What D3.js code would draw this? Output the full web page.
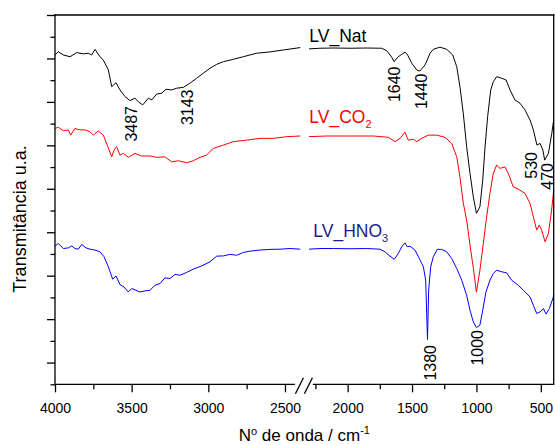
<!DOCTYPE html>
<html>
<head>
<meta charset="utf-8">
<script src="https://cdn.jsdelivr.net/npm/d3@7"></script>
<style>
  body { margin: 0; background: #fff; }
  svg { display: block; }
  text { font-family: "Liberation Sans", Arial, Helvetica, sans-serif; }
</style>
</head>
<body>
<svg id="chart" width="555" height="445"></svg>
<script>
// FTIR spectra: [wavenumber (cm-1), transmittance (a.u.)]
const lvNat = [
  [4000,15.16],[3978,15.31],[3946,15.16],[3902,15.08],[3858,15.27],[3815,15.21],[3783,15.24],
  [3761,15.16],[3739,15.42],[3707,15.08],[3685,14.93],[3652,14.47],[3630,13.70],[3602,13.88],
  [3576,13.55],[3543,13.24],[3511,13.06],[3478,13.17],[3457,13.01],[3428,12.86],[3391,13.17],
  [3369,13.09],[3337,13.36],[3304,13.40],[3276,13.58],[3239,13.55],[3206,13.63],[3163,13.67],
  [3120,13.86],[3076,14.09],[3033,14.32],[2989,14.55],[2945,14.73],[2902,14.85],[2837,14.96],
  [2772,15.08],[2685,15.24],[2598,15.30],[2511,15.39],[2400,15.50],
  [2300,15.44],[2215,15.47],[2111,15.48],[1982,15.47],[1852,15.48],[1736,15.47],[1697,15.36],
  [1658,15.06],[1640,14.85],[1607,15.08],[1580,15.19],[1555,15.29],[1537,15.19],[1502,14.78],
  [1464,14.47],[1440,14.42],[1399,14.70],[1360,15.24],[1335,15.42],[1283,15.52],[1231,15.42],
  [1184,15.16],[1153,14.62],[1128,13.70],[1102,12.47],[1076,10.94],[1050,9.71],[1024,8.63],
  [1000,7.87],[973,8.17],[951,9.40],[933,10.94],[913,12.32],[889,13.55],[869,13.93],[843,14.16],
  [804,14.09],[770,14.01],[739,13.55],[701,13.09],[662,12.94],[623,12.63],[584,12.17],[558,11.71],
  [530,11.01],[506,11.09],[484,10.78],[470,10.32],[441,10.63],[415,11.55],[400,12.17]
];
const lvCO2 = [
  [4000,11.78],[3978,11.83],[3946,11.67],[3913,11.71],[3898,11.47],[3870,11.78],[3837,11.71],
  [3804,11.71],[3772,11.63],[3750,11.47],[3718,11.67],[3685,11.47],[3659,11.01],[3630,10.47],
  [3615,10.78],[3598,10.94],[3576,10.55],[3555,10.63],[3522,10.45],[3478,10.63],[3435,10.51],
  [3380,10.51],[3337,10.45],[3283,10.47],[3239,10.24],[3196,10.29],[3141,10.20],[3098,10.29],
  [3054,10.45],[3011,10.55],[2968,10.86],[2902,11.01],[2837,11.17],[2750,11.24],[2663,11.32],
  [2576,11.32],[2489,11.40],[2400,11.43],
  [2300,11.40],[2163,11.43],[1982,11.43],[1801,11.43],[1684,11.37],[1632,11.17],[1593,11.32],
  [1555,11.60],[1529,11.24],[1490,11.28],[1464,11.17],[1425,11.32],[1374,11.47],[1309,11.47],
  [1244,11.37],[1192,11.09],[1153,10.47],[1128,9.55],[1102,8.34],[1076,7.56],[1050,6.41],
  [1024,5.35],[1000,4.24],[973,5.25],[951,6.27],[926,7.47],[895,8.79],[869,9.71],[843,10.09],
  [817,9.94],[778,10.01],[753,9.71],[714,9.09],[662,8.94],[623,8.79],[584,8.33],[558,7.71],
  [532,7.10],[512,7.33],[494,7.10],[467,6.56],[441,6.94],[416,8.02],[400,8.94]
];
const lvHNO3 = [
  [4000,6.37],[3978,6.48],[3946,6.25],[3913,6.28],[3891,6.37],[3870,6.25],[3848,6.22],
  [3826,6.44],[3798,6.28],[3772,6.22],[3739,6.18],[3707,6.10],[3680,5.87],[3652,5.41],
  [3624,4.84],[3602,4.99],[3576,4.59],[3550,4.48],[3522,4.25],[3500,4.41],[3472,4.33],
  [3446,4.25],[3413,4.30],[3380,4.33],[3348,4.56],[3315,4.64],[3283,4.90],[3250,4.87],
  [3217,5.06],[3185,5.02],[3141,5.15],[3098,5.30],[3043,5.45],[2989,5.64],[2945,5.90],
  [2902,5.91],[2859,5.98],[2815,5.94],[2772,6.07],[2728,6.13],[2663,6.18],[2598,6.21],
  [2533,6.22],[2467,6.25],[2400,6.22],
  [2300,6.22],[2215,6.25],[2111,6.25],[1982,6.24],[1852,6.25],[1749,6.22],[1710,6.10],
  [1671,5.90],[1638,5.75],[1607,6.02],[1580,6.33],[1555,6.51],[1537,6.33],[1516,6.36],
  [1477,6.18],[1443,5.79],[1412,5.41],[1394,4.79],[1380,2.06],[1371,4.33],[1355,5.41],
  [1335,5.87],[1304,6.21],[1270,6.21],[1231,6.10],[1192,5.79],[1153,5.33],[1114,4.79],
  [1076,4.10],[1050,3.41],[1024,2.87],[1000,2.61],[973,2.72],[951,3.41],[926,4.25],
  [895,4.79],[869,5.10],[843,5.25],[804,5.18],[765,5.13],[726,4.79],[675,4.56],[636,4.33],
  [584,4.02],[558,3.64],[532,3.26],[506,3.33],[480,3.49],[459,3.23],[433,3.49],[407,3.95],[400,4.10]
];

const seriesNames = ["LV_Nat", "LV_CO2", "LV_HNO3"];
const xMajorTicks = [4000, 3500, 3000, 2500, 2000, 1500, 1000, 500];
const xMinorTicks = [3750, 3250, 2750, 2250, 1750, 1250, 750];
const yMajorTicks = [1, 3, 5, 7, 9, 11, 13, 15, 17];
const yMinorTicks = [0, 2, 4, 6, 8, 10, 12, 14, 16];
const peakLabels = ["3487", "3143", "1640", "1440", "530", "470", "1380", "1000"];

// ---- layout ----
const W = 555, H = 445;
const plotL = 55, plotR = 553.7, plotT = 15, plotB = 384.3;
const breakL = 300.3, breakR = 309;   // the axis is broken between 2400 and 2300 cm-1

const svg = d3.select("#chart");

const xLeft = d3.scaleLinear().domain([4000, 2400]).range([plotL, breakL]);
const xRight = d3.scaleLinear().domain([2300, 400]).range([breakR, plotR]);
const x = wn => (wn >= 2350 ? xLeft(wn) : xRight(wn));
const y = d3.scaleLinear().domain([0, 17]).range([plotB, plotT]);

const line = d3.line().x(d => x(d[0])).y(d => y(d[1]));

const styles = {
  LV_Nat: { stroke: "#000000", text: "#000000" },
  LV_CO2: { stroke: "#ff0000", text: "#ff0000" },
  LV_HNO3: { stroke: "#0000ff", text: "#1c1c8e" }
};
const data = { LV_Nat: lvNat, LV_CO2: lvCO2, LV_HNO3: lvHNO3 };

// ---- spectra, drawn in two pieces on either side of the break ----
seriesNames.forEach(name => {
  const pts = data[name];
  const pieces = [pts.filter(d => d[0] >= 2400), pts.filter(d => d[0] <= 2300)];
  pieces.forEach(p => {
    svg.append("path")
      .datum(p)
      .attr("d", line)
      .attr("fill", "none")
      .attr("stroke", styles[name].stroke)
      .attr("stroke-width", 1)
      .attr("stroke-linejoin", "round");
  });
});

// ---- axes ----
const axisColor = "#000";
const axisW = 1.3;

// left axis (ticks only, no labels)
const gy = svg.append("g").attr("transform", `translate(${plotL},0)`);
gy.call(d3.axisLeft(y).tickValues(yMajorTicks).tickSize(8).tickFormat(""))
  .call(g => g.select(".domain").remove());
gy.append("g").call(d3.axisLeft(y).tickValues(yMinorTicks).tickSize(4.5).tickFormat(""))
  .call(g => g.select(".domain").remove());
gy.selectAll("line").attr("stroke", axisColor).attr("stroke-width", axisW);

// bottom axis, split into two scales
const gx = svg.append("g").attr("transform", `translate(0,${plotB})`);
[[xLeft, w => w >= 2400], [xRight, w => w <= 2300]].forEach(([sc, keep]) => {
  const major = gx.append("g").call(
    d3.axisBottom(sc).tickValues(xMajorTicks.filter(keep)).tickSize(8).tickPadding(11)
      .tickFormat(d3.format("d")));
  major.select(".domain").remove();
  major.selectAll("text").attr("font-size", 14).attr("fill", "#000")
    .attr("font-family", "'Liberation Sans', Arial, sans-serif");
  const minor = gx.append("g").call(
    d3.axisBottom(sc).tickValues(xMinorTicks.filter(keep)).tickSize(5).tickFormat(""));
  minor.select(".domain").remove();
});
gx.selectAll("line").attr("stroke", axisColor).attr("stroke-width", axisW);

// frame lines
const frame = svg.append("g").attr("stroke", axisColor).attr("stroke-width", axisW)
  .attr("fill", "none").attr("stroke-linecap", "square");
frame.append("line").attr("x1", plotL).attr("y1", plotT).attr("x2", plotL).attr("y2", plotB);
frame.append("line").attr("x1", plotL).attr("y1", plotT).attr("x2", plotR).attr("y2", plotT);
frame.append("line").attr("x1", plotR).attr("y1", plotT).attr("x2", plotR).attr("y2", plotB);
frame.append("line").attr("x1", plotL).attr("y1", plotB).attr("x2", xLeft(2435)).attr("y2", plotB)
  .attr("stroke-linecap", "butt");
frame.append("line").attr("x1", xRight(2270)).attr("y1", plotB).attr("x2", plotR).attr("y2", plotB)
  .attr("stroke-linecap", "butt");

// break marks "//"
const bc = (xLeft(2435) + xRight(2270)) / 2;
[-4.5, 4.5].forEach(off => {
  frame.append("line")
    .attr("x1", bc + off - 4).attr("y1", plotB + 9.5)
    .attr("x2", bc + off + 4).attr("y2", plotB - 6.5)
    .attr("stroke-linecap", "butt");
});

// ---- axis titles ----
const xTitle = svg.append("text")
  .attr("x", (plotL + plotR) / 2).attr("y", 441)
  .attr("text-anchor", "middle").attr("font-size", 17).attr("fill", "#000");
xTitle.append("tspan").text("N");
xTitle.append("tspan").attr("font-size", 11).attr("dy", -6).text("o");
xTitle.append("tspan").attr("dy", 6).text(" de onda / cm");
xTitle.append("tspan").attr("font-size", 11).attr("dy", -7).text("-1");

svg.append("text")
  .attr("transform", `translate(26,219) rotate(-90)`)
  .attr("text-anchor", "middle").attr("font-size", 18).attr("fill", "#000")
  .text("Transmitância u.a.");

// ---- series names ----
const nameLayout = {
  LV_Nat: { x: 309.3, y: 41.7, base: "LV_Nat", sub: "" },
  LV_CO2: { x: 309.3, y: 123.3, base: "LV_CO", sub: "2" },
  LV_HNO3: { x: 313.3, y: 236.7, base: "LV_HNO", sub: "3" }
};
seriesNames.forEach(name => {
  const L = nameLayout[name];
  const t = svg.append("text").attr("x", L.x).attr("y", L.y)
    .attr("font-size", 17.5).attr("fill", styles[name].text);
  t.append("tspan").text(L.base);
  if (L.sub) t.append("tspan").attr("font-size", 11).attr("dy", 5).text(L.sub);
});

// ---- band labels (rotated, hanging below each band) ----
const bandLayout = {
  "3487": { top: 106, shift: -2 },
  "3143": { top: 89.5, shift: 0.5 },
  "1640": { top: 66.5, shift: 0 },
  "1440": { top: 73.5, shift: 1.5 },
  "530": { top: 152, shift: -6 },
  "470": { top: 163, shift: 2.5 },
  "1380": { top: 345, shift: 3 },
  "1000": { top: 330, shift: 1 }
};
peakLabels.forEach(lbl => {
  const L = bandLayout[lbl];
  const bx = x(+lbl) + 5.8 + L.shift;
  svg.append("text")
    .attr("transform", `translate(${bx},${L.top}) rotate(-90)`)
    .attr("text-anchor", "end").attr("font-size", 16).attr("fill", "#000")
    .text(lbl);
});
</script>
</body>
</html>
